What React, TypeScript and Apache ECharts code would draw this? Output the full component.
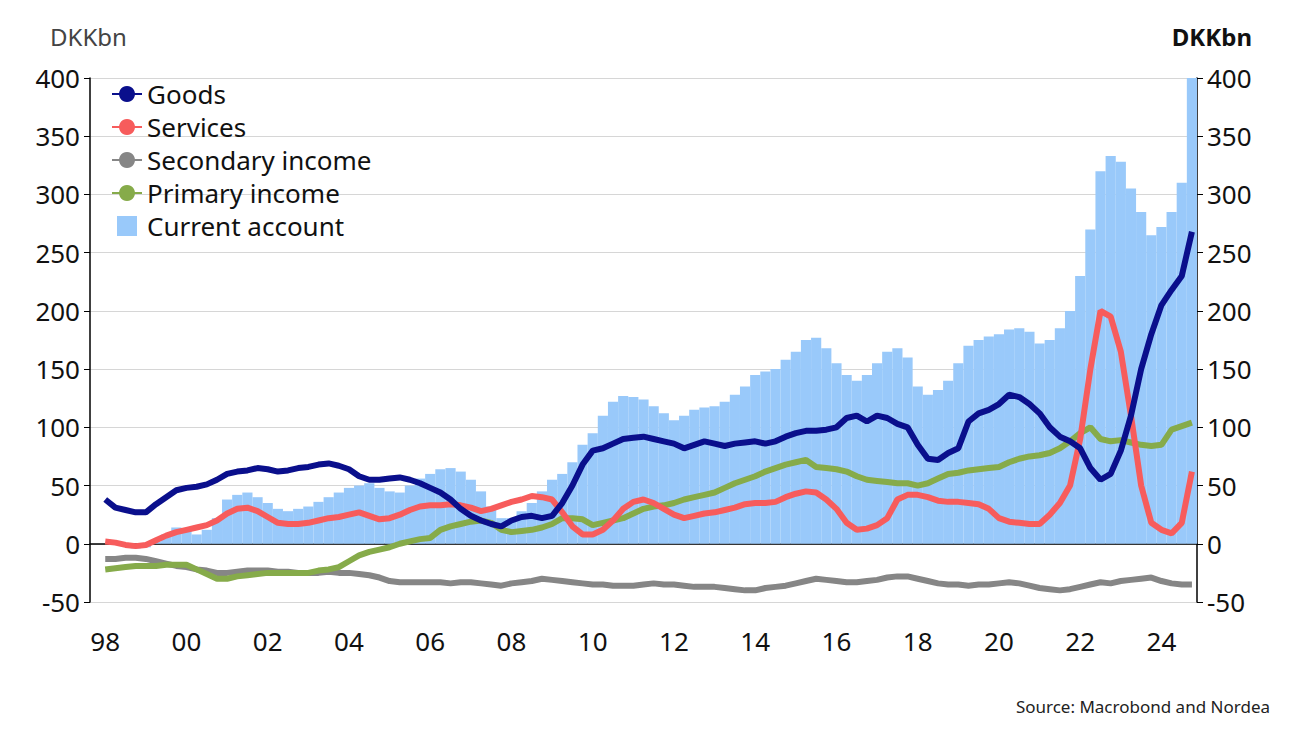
import { useEffect, useRef } from "react";
import * as echarts from "echarts";

// quarterly, 1997Q4 (blank) .. 2024Q4
const years = Array.from({ length: 27 }, (_, i) => 1998 + i);
const quarters: string[] = ["1997Q4", ...years.flatMap(y => [1, 2, 3, 4].map(q => `${y}Q${q}`))];

const goods = [
  38, 31, 29, 27, 27, 34, 40, 46, 48, 49, 51, 55, 60, 62, 63, 65, 64, 62, 63, 65, 66, 68, 69, 67,
  64, 58, 55, 55, 56, 57, 55, 52, 48, 44, 38, 30, 24, 20, 17, 15, 20, 23, 24, 22, 24, 35, 50, 68,
  80, 82, 86, 90, 91, 92, 90, 88, 86, 82, 85, 88, 86, 84, 86, 87, 88, 86, 88, 92, 95, 97, 97, 98,
  100, 108, 110, 105, 110, 108, 103, 100, 85, 73, 72, 78, 82, 105, 112, 115, 120, 128, 126, 120,
  112, 100, 92, 88, 82, 65, 55, 60, 80, 110, 150, 180, 205, 218, 230, 268,
];
const services = [
  2, 1, -1, -2, -1, 3, 7, 10, 12, 14, 16, 20, 26, 30, 31, 28, 23, 18, 17, 17, 18, 20, 22, 23,
  25, 27, 24, 21, 22, 25, 29, 32, 33, 33, 34, 33, 31, 28, 30, 33, 36, 38, 41, 40, 38, 27, 15, 8,
  8, 12, 20, 30, 36, 38, 35, 30, 25, 22, 24, 26, 27, 29, 31, 34, 35, 35, 36, 40, 43, 45, 44, 38,
  30, 18, 12, 13, 16, 22, 38, 42, 42, 40, 37, 36, 36, 35, 34, 30, 22, 19, 18, 17,
  17, 25, 35, 50, 90, 150, 200, 195, 165, 110, 50, 18, 12, 9, 18, 62,
];
const secondary = [
  -13, -13, -12, -12, -13, -15, -17, -19, -20, -22, -23, -25, -25, -24, -23, -23, -23, -24, -24, -25,
  -25, -25, -24, -25, -25, -26, -27, -29, -32, -33, -33, -33, -33, -33, -34, -33, -33, -34, -35, -36,
  -34, -33, -32, -30, -31, -32, -33, -34, -35, -35, -36, -36, -36, -35, -34, -35, -35, -36, -37, -37,
  -37, -38, -39, -40, -40, -38, -37, -36, -34, -32, -30, -31, -32, -33, -33, -32, -31, -29, -28, -28,
  -30, -32, -34, -35, -35, -36, -35, -35, -34, -33, -34, -36, -38, -39, -40, -39, -37, -35, -33, -34,
  -32, -31, -30, -29, -32, -34, -35, -35,
];
const primary = [
  -22, -21, -20, -19, -19, -19, -18, -18, -18, -22, -26, -30, -30, -28, -27, -26, -25, -25, -25, -25,
  -25, -23, -22, -20, -15, -10, -7, -5, -3, 0, 2, 4, 5, 12, 15, 17, 19, 20, 18, 12, 10, 11, 12, 14,
  17, 22, 22, 21, 16, 18, 20, 22, 26, 30, 32, 33, 35, 38, 40, 42, 44, 48, 52, 55, 58, 62, 65, 68,
  70, 72, 66, 65, 64, 62, 58, 55, 54, 53, 52, 52, 50, 52, 56, 60, 61, 63, 64, 65, 66, 70, 73, 75,
  76, 78, 82, 88, 95, 100, 90, 88, 89, 87, 85, 84, 85, 98, 101, 104,
];
const current = [
  0, 2, -2, -4, -3, 2, 8, 14, 12, 8, 12, 22, 38, 42, 44, 40, 35, 30, 28, 30, 32, 36, 40, 44,
  48, 50, 52, 48, 45, 44, 50, 56, 60, 64, 65, 62, 55, 45, 32, 22, 22, 28, 35, 45, 55, 60, 70, 85,
  95, 110, 122, 127, 126, 124, 118, 112, 106, 110, 115, 117, 118, 122, 128, 135, 145, 148, 150, 158,
  165, 175, 177, 168, 155, 145, 140, 145, 155, 165, 168, 160, 135, 128, 132, 140, 155, 170, 175, 178,
  180, 184, 185, 182, 172, 175, 185, 200, 230, 270, 320, 333, 328, 305, 285, 265, 272, 285, 310, 400,
];
const yTicks = [-50, 0, 50, 100, 150, 200, 250, 300, 350, 400];

const pad = (a: number[]) => [null, ...a];
const FONT = "Noto Sans";

export default function App() {
  const ref = useRef<HTMLDivElement>(null);

  useEffect(() => {
    if (!ref.current) return;
    const chart = echarts.init(ref.current, undefined, { renderer: "svg" });
    const isLabel = (i: number) => /Q1$/.test(quarters[i]) && +quarters[i].slice(0, 4) % 2 === 0;
    const yAxisBase = {
      type: "value" as const, min: -50, max: 400, interval: 50,
      axisLine: { show: true, lineStyle: { color: "#000", width: 1.5 } },
      axisTick: { show: true, length: 6, lineStyle: { color: "#000" } },
    };
    chart.setOption({
      animation: false,
      textStyle: { fontFamily: FONT },
      grid: { left: 82, right: 95, top: 70, bottom: 121 },
      legend: {
        orient: "vertical", left: 98, top: 68, itemGap: 7, itemWidth: 30, itemHeight: 20,
        textStyle: { fontSize: 26, color: "#111", fontFamily: FONT },
        data: [
          { name: "Goods" }, { name: "Services" }, { name: "Secondary income" }, { name: "Primary income" },
          { name: "Current account", icon: "path://M0,0h10v10h-10z" },
        ],
      },
      graphic: [
        { type: "text", left: 42, top: 16, style: { text: "DKKbn", fontSize: 24, fill: "#444", fontFamily: FONT } },
        { type: "text", right: 40, top: 16, style: { text: "DKKbn", fontSize: 24, fill: "#111", fontWeight: "bold", fontFamily: FONT } },
        { type: "text", right: 22, top: 690, style: { text: "Source: Macrobond and Nordea", fontSize: 17, fill: "#222", fontFamily: FONT } },
      ],
      xAxis: {
        type: "category", data: quarters, boundaryGap: true, offset: 18,
        axisLine: { lineStyle: { color: "#000", width: 1.5 } },
        axisTick: { interval: (i: number) => isLabel(i), alignWithLabel: true, length: 7, lineStyle: { color: "#000" } },
        axisLabel: {
          interval: (i: number) => isLabel(i), fontSize: 26, color: "#111", margin: 8,
          formatter: (v: string) => v.slice(2, 4),
        },
      },
      yAxis: [
        {
          ...yAxisBase, position: "left",
          splitLine: { lineStyle: { color: "#d6d6d6" } },
          axisLabel: { fontSize: 26, color: "#111", margin: 10, customValues: yTicks },
        },
        {
          ...yAxisBase, position: "right", splitLine: { show: false },
          axisLabel: { fontSize: 26, color: "#111", margin: 10 },
        },
      ],
      series: [
        { name: "Current account", type: "bar", data: pad(current), barCategoryGap: "0%", clip: false, itemStyle: { color: "#99c9fa" }, z: 1 },
        { name: "Secondary income", type: "line", data: pad(secondary), symbol: "none", lineStyle: { color: "#868686", width: 6 }, itemStyle: { color: "#868686" } },
        { name: "Primary income", type: "line", data: pad(primary), symbol: "none", lineStyle: { color: "#86ab4a", width: 6 }, itemStyle: { color: "#86ab4a" } },
        { name: "Services", type: "line", data: pad(services), symbol: "none", lineStyle: { color: "#f75c5c", width: 6 }, itemStyle: { color: "#f75c5c" } },
        { name: "Goods", type: "line", data: pad(goods), symbol: "none", lineStyle: { color: "#0a0f8c", width: 6 }, itemStyle: { color: "#0a0f8c" } },
      ],
    });
    return () => chart.dispose();
  }, []);

  return <div ref={ref} style={{ width: 1284, height: 715 }} />;
}
